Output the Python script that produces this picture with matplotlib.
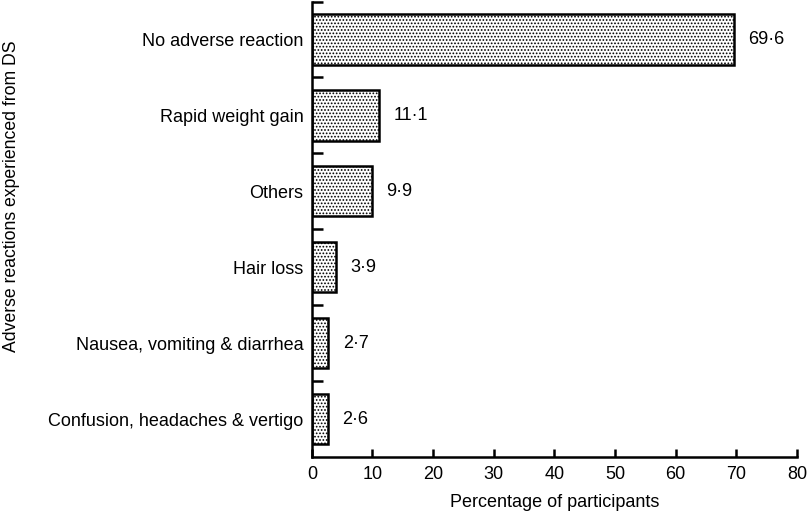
import matplotlib
matplotlib.use('Agg')
from matplotlib import pyplot

pyplot.rc('font', family=['Liberation Sans', 'DejaVu Sans'])
pyplot.rcParams['hatch.linewidth'] = 0.8

categories = ['No adverse reaction', 'Rapid weight gain', 'Others', 'Hair loss',
              'Nausea, vomiting & diarrhea', 'Confusion, headaches & vertigo']
values = [69.6, 11.1, 9.9, 3.9, 2.7, 2.6]
value_labels = ['69\u00b76', '11\u00b71', '9\u00b79', '3\u00b79', '2\u00b77', '2\u00b76']

fs = 13

fig = pyplot.figure(figsize=(8.1, 5.16), dpi=100)
ax = fig.add_axes([0.385, 0.114, 0.599, 0.883])

pos = list(range(len(categories)))
ax.barh(pos, values, height=0.66, color='white', edgecolor='black',
        linewidth=1.8, hatch='.....')

for p, v, lab in zip(pos, values, value_labels):
    ax.text(v + 2.4, p, lab, va='center', ha='left', fontsize=fs)

ax.set_ylim(len(categories) - 0.5, -0.5)
ax.set_xlim(0, 80)
ax.set_xticks(range(0, 81, 10))
ax.set_yticks([p + 0.5 for p in pos[:-1]] + [-0.5])
ax.set_yticks(pos, minor=True)
ax.set_yticklabels([''] * len(categories))
ax.set_yticklabels(categories, minor=True)
ax.tick_params(axis='y', which='major', direction='in', length=8, width=1.8)
ax.tick_params(axis='y', which='minor', length=0, pad=6, labelsize=fs)
ax.tick_params(axis='x', direction='in', length=6, width=1.8, labelsize=fs, pad=6)

for s in ['top', 'right']:
    ax.spines[s].set_visible(False)
for s in ['left', 'bottom']:
    ax.spines[s].set_linewidth(1.8)

ax.set_xlabel('Percentage of participants', fontsize=fs, labelpad=8)
fig.text(0.004, 0.62, 'Adverse reactions experienced from DS', rotation=90,
         va='center', ha='left', fontsize=12.7)

pyplot.savefig('out.png', dpi=100)
